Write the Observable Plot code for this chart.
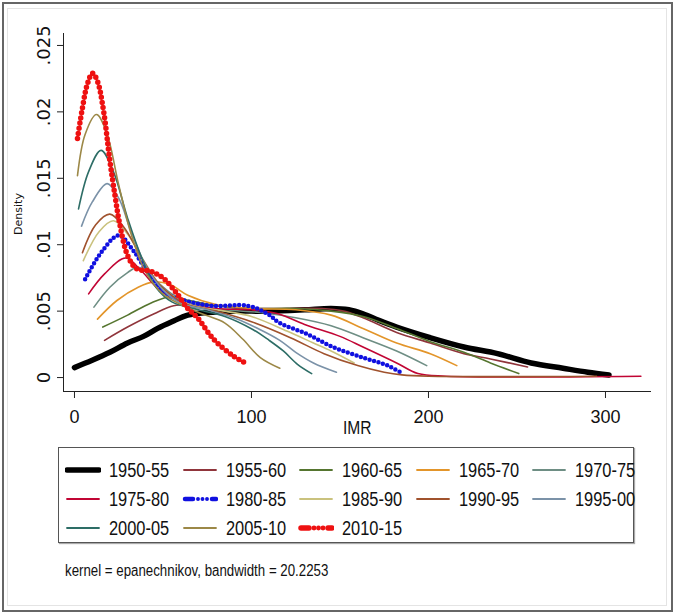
<!DOCTYPE html>
<html>
<head>
<meta charset="utf-8">
<script src="https://cdn.jsdelivr.net/npm/d3@7"></script>
<script src="https://cdn.jsdelivr.net/npm/@observablehq/plot@0.6"></script>
<style>
  html, body { margin: 0; padding: 0; background: #fff; }
  #wrap { position: relative; width: 675px; height: 614px; background: #fff; overflow: hidden; }
  #chart { position: absolute; left: 0; top: 0; }
  .narrow { font-family: "Liberation Sans", Arial, sans-serif; color: #111; display: inline-block; transform-origin: left center; white-space: nowrap; }
  #ylab { position: absolute; left: 18px; top: 214px; transform: translate(-50%, -50%) rotate(-90deg); font-family: "DejaVu Sans", sans-serif; font-size: 11px; color: #111; white-space: nowrap; }
  #xlab { position: absolute; left: 343px; top: 417px; font-size: 19px; transform: scaleX(0.82); }
  #legend { position: absolute; left: 58px; top: 447px; width: 576px; height: 96px; border: 1px solid #555; box-sizing: border-box; box-shadow: 1px 1px 1px #aaa; background: #fff; }
  .item { position: absolute; height: 20px; display: flex; align-items: center; }
  .item span { font-size: 20px; margin-left: 8px; transform: scaleX(0.82); }
  #caption { position: absolute; left: 65px; top: 562px; font-size: 16px; transform: scaleX(0.83); }
  #frame { position: absolute; left: 2px; top: 2px; width: 671px; height: 610px; box-sizing: border-box; border: 2px solid #666; pointer-events: none; }
  #frame2 { position: absolute; left: 7px; top: 8px; width: 660px; height: 598px; box-sizing: border-box; border: 1px solid #e4e4e4; pointer-events: none; }
</style>
</head>
<body>
<div id="wrap">
  <div id="chart"></div>
  <div id="ylab">Density</div>
  <div id="xlab" class="narrow">IMR</div>
  <div id="legend"></div>
  <div id="caption" class="narrow">kernel = epanechnikov, bandwidth = 20.2253</div>
  <div id="frame2"></div>
  <div id="frame"></div>
</div>
<script>
// ---- Data (IMR, density) ----
const periods = ["1950-55","1955-60","1960-65","1965-70","1970-75","1975-80","1980-85","1985-90","1990-95","1995-00","2000-05","2005-10","2010-15"];

const d1950_55 = [[0,.00075],[10,.0013],[20,.0019],[30,.0026],[39,.0031],[47,.0037],[55,.0042],[64,.0047],[75,.0049],[90,.0050],[110,.0050],[130,.0051],[145,.0052],[155,.0051],[163,.0048],[172,.0043],[182,.0038],[201,.0030],[220,.0023],[239,.0018],[258,.0011],[276,.0007],[290,.0004],[302,.0002]];
const d1955_60 = [[17,.0028],[30,.0038],[45,.0048],[56,.0054],[65,.0055],[80,.0054],[100,.0052],[120,.0052],[140,.0052],[152,.0050],[163,.0045],[182,.0034],[201,.0026],[220,.0018],[235,.0014],[256,.0008]];
const d1960_65 = [[16,.0038],[30,.0047],[43,.0056],[55,.0061],[65,.0058],[80,.0054],[100,.0052],[125,.0052],[145,.0050],[163,.0046],[182,.0037],[201,.0027],[220,.0019],[235,.0011],[251,.0003]];
const d1965_70 = [[13,.0044],[24,.0058],[36,.0068],[45,.0072],[54,.0070],[64,.0062],[80,.0055],[100,.0052],[125,.0051],[145,.0047],[163,.0037],[182,.0026],[201,.0018],[216,.0009]];
const d1970_75 = [[11,.0053],[20,.0068],[30,.0079],[36,.0083],[45,.0074],[55,.0063],[68,.0055],[85,.0051],[105,.0049],[125,.0045],[145,.0039],[163,.0030],[182,.0020],[199,.0009]];
const d1975_80 = [[8,.0063],[17,.0078],[29,.0090],[38,.0080],[48,.0066],[62,.0056],[80,.0052],[100,.0051],[115,.0048],[130,.0040],[150,.0031],[163,.0023],[182,.0011],[194,.0003],[210,.0001],[320,.0001]];
const d1980_85 = [[6,.0074],[15,.0094],[25,.0107],[33,.0096],[42,.0078],[52,.0063],[65,.0057],[78,.0054],[98,.0054],[109,.0048],[116,.0041],[131,.0033],[146,.0023],[163,.0015],[177,.0009],[184,.0004]];
const d1985_90 = [[5,.0088],[14,.0110],[22,.0118],[30,.0108],[40,.0086],[50,.0067],[65,.0055],[85,.0050],[100,.0046],[120,.0035],[135,.0026],[145,.0020],[158,.0011]];
const d1990_95 = [[4.5,.0094],[12,.0115],[20,.0123],[28,.0113],[38,.0090],[48,.0070],[62,.0056],[80,.0050],[100,.0042],[122,.0030],[141,.0018],[160,.0009],[175,.0004],[185,.0002],[200,.0001],[295,.0001]];
const d1995_00 = [[4,.0114],[10,.0132],[18.5,.0146],[25,.0135],[32,.0110],[40,.0085],[50,.0066],[60,.0056],[75,.0051],[90,.0045],[105,.0036],[116,.0028],[125,.0019],[135,.0011],[148,.0004]];
const d2000_05 = [[2.3,.0127],[8,.0155],[15,.0171],[22,.0155],[30,.0120],[38,.0090],[46,.0068],[55,.0057],[70,.0051],[85,.0046],[101,.0036],[110,.0028],[118,.0020],[126,.0010],[134,.0003]];
const d2005_10 = [[1.7,.0152],[6,.0183],[12.4,.0198],[18,.0185],[25,.0145],[32,.0108],[40,.0080],[50,.0063],[60,.0055],[72,.0048],[85,.0041],[95,.0029],[105,.0015],[116,.0007]];
const d2010_15 = [[1.7,.0180],[4.5,.0203],[7.3,.0221],[10.2,.0229],[13,.0223],[16.4,.0201],[20,.0163],[23,.0136],[25.5,.0116],[30,.0092],[35,.0082],[43,.0080],[50,.0075],[58,.0063],[64,.0052],[69.5,.0045],[78.5,.0029],[90,.0016],[96.6,.0011]];

const seriesData = [d1950_55,d1955_60,d1960_65,d1965_70,d1970_75,d1975_80,d1980_85,d1985_90,d1990_95,d1995_00,d2000_05,d2005_10,d2010_15];

const xTicks = [0, 100, 200, 300];
const yTicks = [0, .005, .01, .015, .02, .025];
const xDomain = [-6.2, 326];
const yDomain = [-0.00105, 0.0259];

// ---- Styles ----
const colors = ["#000000","#90353b","#55752f","#e3952a","#6e8e84","#c10534","#1010e0","#cac27e","#a0522d","#7b92a8","#2d6d66","#9c8847","#ee1111"];
const widths = [5.5, 1.6, 1.6, 1.6, 1.6, 1.6, 4.5, 1.6, 1.6, 1.6, 1.6, 1.6, 5.5];
const dashes = [null, null, null, null, null, null, "0 4.6", null, null, null, null, null, "0 5.2"];

const rows = periods.map((p, i) => seriesData[i].map(([x, y]) => ({period: p, x, y}))).flat();

const fmt = d => d === 0 ? "0" : String(d).replace(/^0/, "");

const marks = [
  Plot.ruleX([xDomain[0]], {y1: yDomain[0], y2: yDomain[1], stroke: "#222", strokeWidth: 1}),
  Plot.ruleY([yDomain[0]], {x1: xDomain[0], x2: xDomain[1], stroke: "#222", strokeWidth: 1}),
  Plot.axisY({ticks: yTicks, tickSize: 6, tickFormat: () => "", label: null, stroke: "#222"}),
  Plot.axisX({ticks: xTicks, tickSize: 7, tickFormat: () => "", label: null, stroke: "#222"}),
  Plot.text(yTicks, {x: xDomain[0], y: d => d, text: fmt, rotate: -90, dx: -19, textAnchor: "middle", lineAnchor: "middle", fontSize: 18, fontFamily: "DejaVu Sans, sans-serif", fill: "#111"}),
  Plot.text(xTicks, {x: d => d, y: yDomain[0], text: d => String(d), dy: 26, textAnchor: "middle", lineAnchor: "middle", fontSize: 18, fontFamily: "Liberation Sans, Arial, sans-serif", fill: "#111", ariaLabel: "x-tick-label"})
];
periods.forEach((p, i) => {
  marks.push(Plot.line(rows.filter(r => r.period === p), {
    x: "x", y: "y", stroke: colors[i], strokeWidth: widths[i],
    strokeDasharray: dashes[i] || undefined, strokeLinecap: "round", strokeLinejoin: "round",
    curve: "catmull-rom"
  }));
});

const chart = Plot.plot({
  width: 675, height: 440,
  marginLeft: 63, marginRight: 24, marginTop: 33, marginBottom: 49,
  x: {domain: xDomain, label: null},
  y: {domain: yDomain, label: null},
  marks
});
document.getElementById("chart").appendChild(chart);

// condense the x tick labels horizontally (narrow font look)
chart.querySelectorAll('g[aria-label="x-tick-label"] text').forEach(t => {
  const x = t.getAttribute("x"), y = t.getAttribute("y");
  if (x !== null || y !== null) {
    t.removeAttribute("x"); t.removeAttribute("y");
    const prev = t.getAttribute("transform") || "";
    t.setAttribute("transform", `translate(${x || 0},${y || 0}) ${prev} scale(0.82,1)`);
  } else {
    t.setAttribute("transform", (t.getAttribute("transform") || "") + " scale(0.82,1)");
  }
});

// ---- Legend ----
const legend = document.getElementById("legend");
const ns = "http://www.w3.org/2000/svg";
periods.forEach((p, i) => {
  const col = i % 5, row = Math.floor(i / 5);
  const item = document.createElement("div");
  item.className = "item";
  item.style.left = (6 + col * 116.5) + "px";
  item.style.top = (12 + row * 29) + "px";
  const svg = document.createElementNS(ns, "svg");
  svg.setAttribute("width", 36); svg.setAttribute("height", 12);
  const seg = (a, b, w) => {
    const ln = document.createElementNS(ns, "line");
    ln.setAttribute("x1", a); ln.setAttribute("x2", b); ln.setAttribute("y1", 6); ln.setAttribute("y2", 6);
    ln.setAttribute("stroke", colors[i]); ln.setAttribute("stroke-width", w);
    ln.setAttribute("stroke-linecap", "round");
    svg.appendChild(ln);
  };
  if (dashes[i]) {
    seg(3, 11, widths[i]);
    [16, 20.5, 25].forEach(cx => {
      const c = document.createElementNS(ns, "circle");
      c.setAttribute("cx", cx); c.setAttribute("cy", 6); c.setAttribute("r", widths[i] / 2 - 0.3);
      c.setAttribute("fill", colors[i]); svg.appendChild(c);
    });
    seg(30, 34, widths[i]);
  } else {
    seg(2, 34, widths[i] > 2 ? widths[i] : 1.8);
  }
  const span = document.createElement("span");
  span.className = "narrow";
  span.textContent = p;
  item.appendChild(svg); item.appendChild(span);
  legend.appendChild(item);
});
</script>
</body>
</html>
